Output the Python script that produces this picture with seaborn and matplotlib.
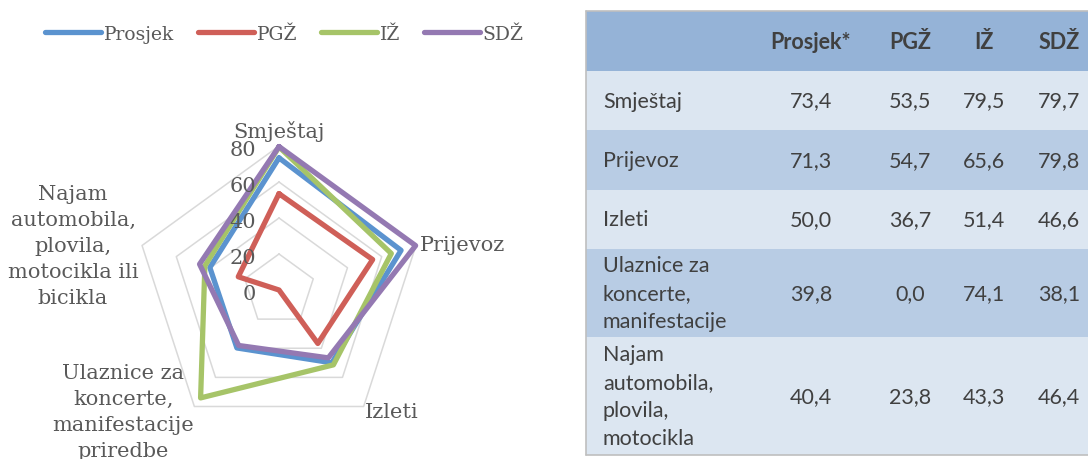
import numpy as np
import pandas as pd
import matplotlib
matplotlib.use("Agg")
import matplotlib.pyplot as plt
import seaborn as sns

kategorije = ["Smještaj", "Prijevoz", "Izleti",
              "Ulaznice za\nkoncerte,\nmanifestacije\npriredbe",
              "Najam\nautomobila,\nplovila,\nmotocikla ili\nbicikla"]
tablica_redovi = ["Smještaj", "Prijevoz", "Izleti",
                  "Ulaznice za\nkoncerte,\nmanifestacije",
                  "Najam\nautomobila,\nplovila,\nmotocikla"]
serije = ["Prosjek", "PGŽ", "IŽ", "SDŽ"]
stupci = ["Prosjek*", "PGŽ", "IŽ", "SDŽ"]
prosjek = [73.4, 71.3, 50.0, 39.8, 40.4]
pgz = [53.5, 54.7, 36.7, 0.0, 23.8]
iz = [79.5, 65.6, 51.4, 74.1, 43.3]
sdz = [79.7, 79.8, 46.6, 38.1, 46.4]
r_ticks = [0, 20, 40, 60, 80]

boje = {"Prosjek": "#5B93CF", "PGŽ": "#CF5F58", "IŽ": "#A6C468", "SDŽ": "#9479B2"}
text_col = "#595959"

sns.set_style("white")
plt.rcParams["font.family"] = ["DejaVu Serif"]

W, H = 1088, 460
fig = plt.figure(figsize=(W / 100, H / 100), dpi=100)

# long-form frame for seaborn, each polygon closed with its first point
n = len(kategorije)
kutovi = np.linspace(0, 2 * np.pi, n, endpoint=False)
redovi = []
for ime, vals in zip(serije, [prosjek, pgz, iz, sdz]):
    for k in list(range(n)) + [0]:
        redovi.append({"Serija": ime, "theta": kutovi[k], "vrijednost": vals[k]})
df = pd.DataFrame(redovi)

# radar axes: centre at (279, 291) px, r=80 -> 144 px
cx, cy, R = 279, 291, 144
ax = fig.add_axes([(cx - R) / W, (H - cy - R) / H, 2 * R / W, 2 * R / H], projection="polar")
ax.set_theta_zero_location("N")
ax.set_theta_direction(-1)
ax.patch.set_alpha(0)

zatvoreno = np.append(kutovi, kutovi[0])
for r in r_ticks[1:]:
    ax.plot(zatvoreno, [r] * (n + 1), color="#D9D9D9", lw=1.1, zorder=0)

sns.lineplot(data=df, x="theta", y="vrijednost", hue="Serija", hue_order=serije,
             palette=boje, sort=False, estimator=None, lw=3.8,
             solid_capstyle="round", solid_joinstyle="round", ax=ax)
for ln in ax.lines:
    ln.set_clip_on(False)

ax.set_ylim(0, 80)
ax.set_xticks([])
ax.set_yticks([])
ax.grid(False)
ax.spines["polar"].set_visible(False)
ax.set_xlabel("")
ax.set_ylabel("")

for v in r_ticks:
    ax.annotate(str(v), xy=(0, v), xytext=(-23, -3.5), textcoords="offset pixels",
                ha="right", va="center", fontsize=15, color=text_col, annotation_clip=False)

pomaci = [((0, 15), "center"), ((4, 1), "left"), ((1, -5.5), "left"),
          ((-71, -5), "center"), ((-69, 0), "center")]
for k, (lab, (off, ha)) in enumerate(zip(kategorije, pomaci)):
    ax.annotate(lab, xy=(kutovi[k], 80), xytext=off, textcoords="offset pixels",
                ha=ha, va="center", multialignment="center", fontsize=15,
                color=text_col, linespacing=1.48, annotation_clip=False)

sns.move_legend(ax, "center left", bbox_to_anchor=(45 / W, 1 - 35 / H),
                bbox_transform=fig.transFigure, ncol=4, frameon=False, title=None,
                fontsize=13.5, handlelength=3.0, handletextpad=0.15,
                columnspacing=1.25, borderpad=0, borderaxespad=0)
for t in ax.get_legend().get_texts():
    t.set_color(text_col)

# table on the right
x0, x1 = 586, W
granice = [12, 72, 131, 191, 250, 338, 456]
tax = fig.add_axes([x0 / W, (H - granice[-1]) / H, (x1 - x0) / W, (granice[-1] - granice[0]) / H])
tax.set_xlim(x0, x1)
tax.set_ylim(granice[-1], granice[0])
tax.axis("off")

boje_redova = ["#95B3D7", "#DCE6F1", "#B8CCE4", "#DCE6F1", "#B8CCE4", "#DCE6F1"]
for i, c in enumerate(boje_redova):
    tax.axhspan(granice[i], granice[i + 1], color=c, lw=0)
tax.plot([x0, x0], [granice[0], granice[-1]], color="#BFBFBF", lw=1.2, clip_on=False)
tax.plot([x0, x1], [granice[0], granice[0]], color="#BFBFBF", lw=1.2, clip_on=False)
tax.plot([x0, x1], [granice[-1], granice[-1]], color="#BFBFBF", lw=1.2, clip_on=False)

tab_font = "Lato"
tab_col = "#404040"
stupac_x = [811, 910, 984, 1059]
yh = (granice[0] + granice[1]) / 2
for xs, s in zip(stupac_x, stupci):
    tax.text(xs, yh, s, ha="center", va="center", fontsize=15.5, fontweight="bold",
             color=tab_col, family=tab_font)

for i, (lab, vals) in enumerate(zip(tablica_redovi, zip(prosjek, pgz, iz, sdz))):
    yc = (granice[i + 1] + granice[i + 2]) / 2
    tax.text(603, yc, lab, ha="left", va="center", fontsize=15.5, color=tab_col,
             family=tab_font, linespacing=1.5)
    for xs, v in zip(stupac_x, vals):
        tax.text(xs, yc, f"{v:.1f}".replace(".", ","), ha="center", va="center",
                 fontsize=15.5, color=tab_col, family=tab_font)

fig.savefig("out.png", dpi=100)
